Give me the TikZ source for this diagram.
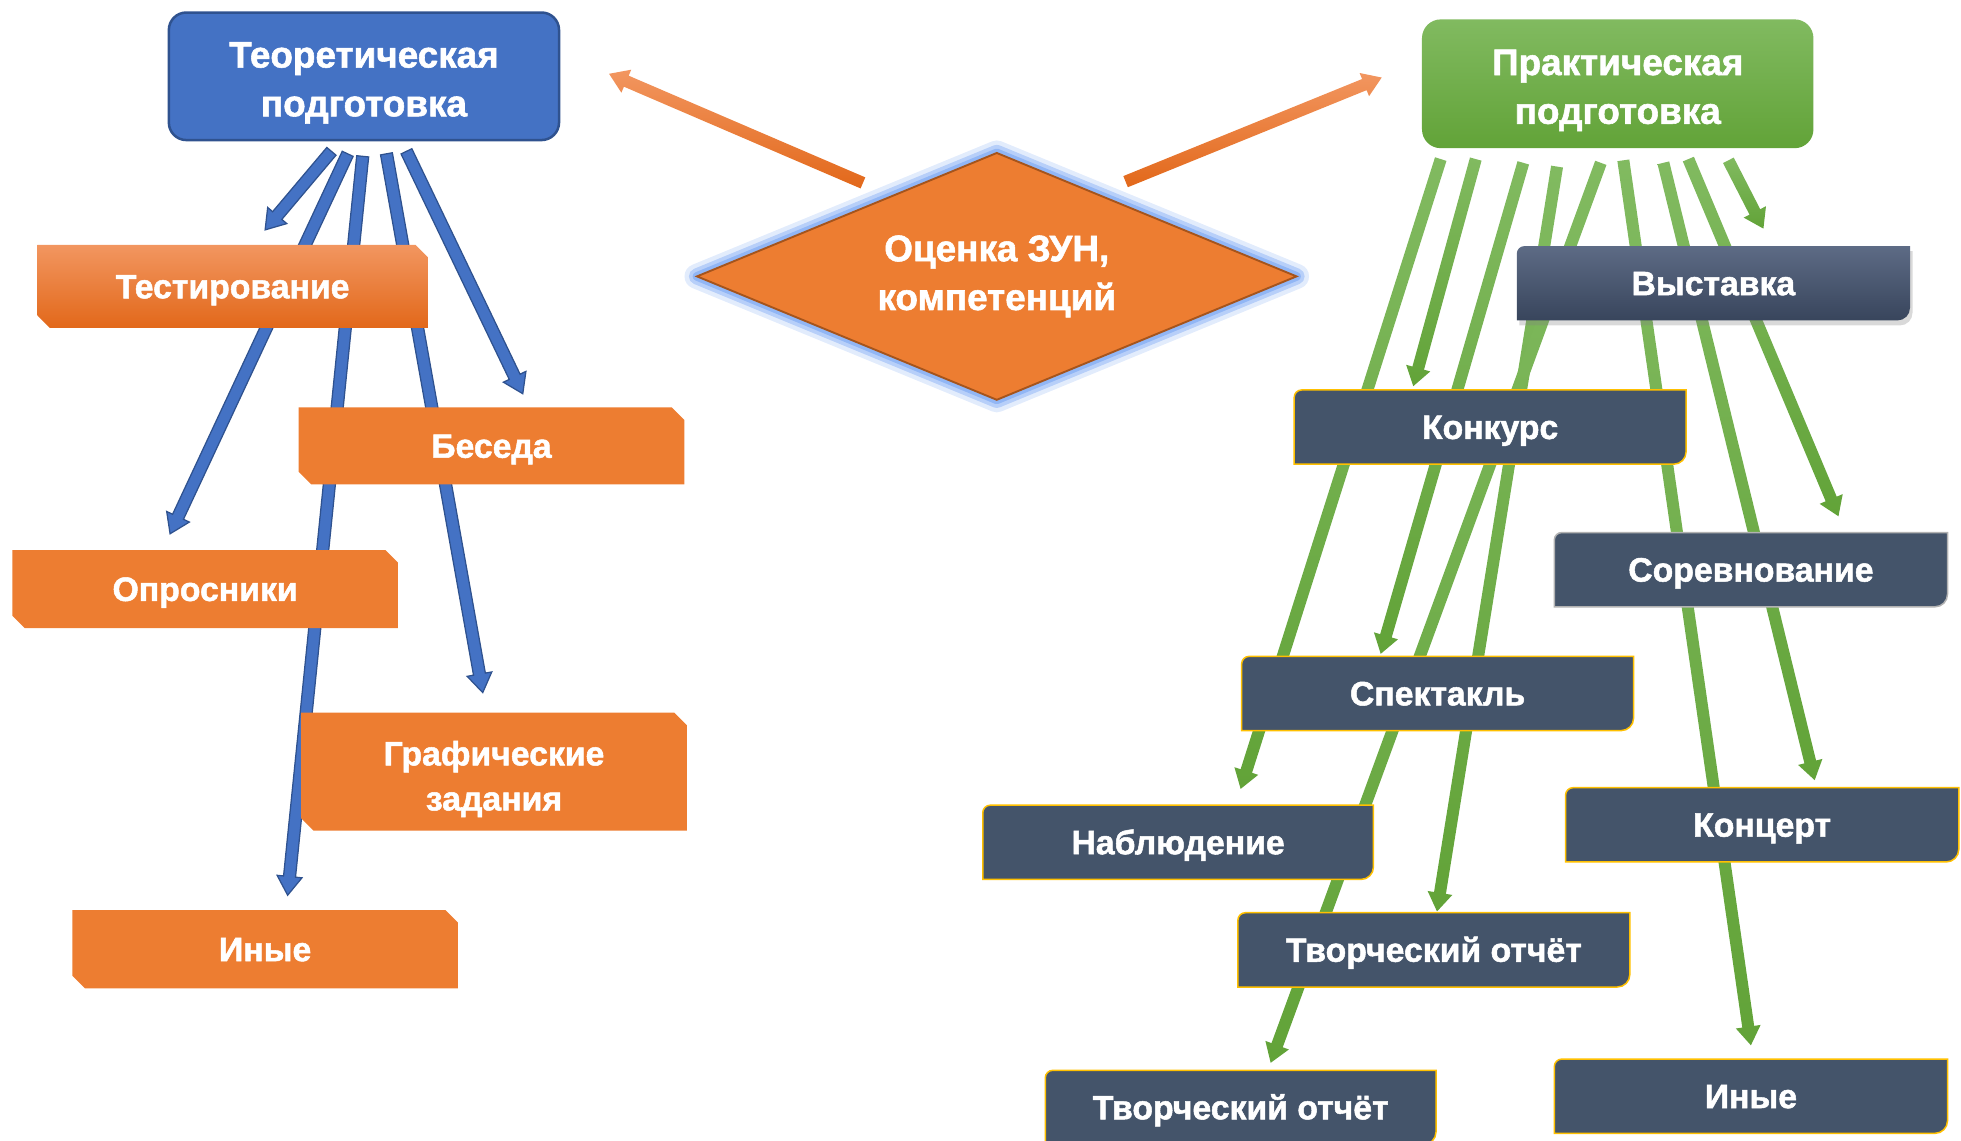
\documentclass[tikz,border=0pt]{standalone}
\usepackage{fontspec}
\setmainfont{Liberation Sans}
\newfontfamily\heavyfont[FakeBold=1.5]{Liberation Sans Bold}
\usetikzlibrary{calc,shapes.geometric,shadows}

\definecolor{theoryblue}{HTML}{4472C4}
\definecolor{theoryedge}{HTML}{2F528F}
\definecolor{evalorange}{HTML}{ED7D31}
\definecolor{evaledge}{HTML}{A5541C}
\definecolor{orangelight}{HTML}{F29660}
\definecolor{orangedark}{HTML}{E2681A}
\definecolor{greenlight}{HTML}{81BA60}
\definecolor{greendark}{HTML}{62A338}
\definecolor{slate}{HTML}{44546A}
\definecolor{slatelight}{HTML}{5D6B85}
\definecolor{slatedark}{HTML}{38455C}
\definecolor{goldline}{HTML}{FFC000}
\definecolor{glowblue}{HTML}{8DB3F5}

\pgfdeclarelayer{arrowlayer}
\pgfdeclarelayer{boxlayer}
\pgfsetlayers{arrowlayer,boxlayer,main}

\newcommand\snip{10pt}
\newcommand\shaftw{4.8pt}
\newcommand\headw{10pt}
\newcommand\headl{15pt}

% thick arrow as a filled outline: [style]{from}{to}
\newcommand\blockarrow[3][]{%
  \coordinate (ba-s) at (#2);
  \coordinate (ba-e) at (#3);
  \coordinate (ba-b) at ($(ba-e)!\headl!(ba-s)$);
  \path[#1] ($(ba-s)!\shaftw!90:(ba-e)$) -- ($(ba-b)!\shaftw!-90:(ba-s)$)
    -- ($(ba-b)!\headw!-90:(ba-s)$) -- (ba-e) -- ($(ba-b)!\headw!90:(ba-s)$)
    -- ($(ba-b)!\shaftw!90:(ba-s)$) -- ($(ba-s)!\shaftw!-90:(ba-e)$) -- cycle;}

% box with two snipped corners
\newcommand\snipbox[2]{%
  \path[#2] ([xshift=-\snip]#1.north east) -- ([yshift=-\snip]#1.north east)
    -- (#1.south east) -- ([xshift=\snip]#1.south west)
    -- ([yshift=\snip]#1.south west) -- (#1.north west) -- cycle;}

% box with two rounded corners on the diagonal
\newcommand\slatebox[2]{%
  \path[#2] (#1.south west) -- ([yshift=-6pt]#1.north west)
    arc[start angle=180,end angle=90,radius=6pt] -- (#1.north east)
    -- ([yshift=10pt]#1.south east)
    arc[start angle=0,end angle=-90,radius=10pt] -- cycle;}

\tikzset{
  lbl/.style={text=white, font=\heavyfont\fontsize{27}{39}\selectfont,
    align=center, inner sep=0pt},
  headlbl/.style={lbl, font=\heavyfont\fontsize{29.5}{39}\selectfont},
  orangenode/.style={lbl, minimum width=308pt, minimum height=62pt,
    text height=24pt, text depth=5pt},
  slatenode/.style={lbl, minimum width=313pt, minimum height=59pt,
    text height=24pt, text depth=5pt},
  orangefill/.style={fill=evalorange},
  slatefill/.style={fill=slate, draw=goldline, line width=1.2pt},
  bluearrow/.style={fill=theoryblue, draw=theoryedge, line width=1pt},
  greenarrow/.style={top color=greenlight, bottom color=greendark},
  orangearrow/.style={top color=orangelight, bottom color=orangedark},
}

\begin{document}
\begin{tikzpicture}[x=1pt,y=1pt]
\useasboundingbox (0,0) rectangle (1568,-912);

% main boxes
\node[headlbl, fill=theoryblue, draw=theoryedge, line width=2pt, rounded corners=14pt,
  minimum width=312pt, minimum height=102pt, text height=64pt, text depth=0pt]
  (theory) at (291,-61) {Теоретическая\\подготовка};
\node[headlbl, top color=greenlight, bottom color=greendark, rounded corners=15pt,
  minimum width=313pt, minimum height=103pt, text height=64pt, text depth=0pt]
  (practice) at (1293.5,-67) {Практическая\\подготовка};
\node[headlbl, diamond, aspect=2.4, minimum width=480pt, minimum height=198pt,
  fill=evalorange, draw=evaledge, line width=1.5pt,
  preaction={draw=glowblue, line width=20pt, line join=round, opacity=.25},
  preaction={draw=glowblue, line width=13pt, line join=round, opacity=.5},
  preaction={draw=glowblue, line width=7pt, line join=round, opacity=.9}]
  (score) at (797,-221) {Оценка ЗУН,\\компетенций};

% theory
\node[orangenode, minimum width=312pt, minimum height=66pt] (test) at (186,-229) {Тестирование};
\node[orangenode, minimum height=61pt] (talk) at (393,-356.5) {Беседа};
\node[orangenode] (quest) at (164,-471) {Опросники};
\node[orangenode, minimum height=94pt, font=\heavyfont\fontsize{27}{36}\selectfont,
  text height=62pt, text depth=0pt] (graph) at (395,-617) {Графические\\задания};
\node[orangenode] (otherl) at (212,-759) {Иные};

% practice
\node[slatenode, minimum width=314pt] (show) at (1370,-226.5) {Выставка};
\node[slatenode] (contest) at (1191.5,-341.5) {Конкурс};
\node[slatenode, minimum width=314pt] (match) at (1400,-455.5) {Соревнование};
\node[slatenode] (play) at (1149.5,-554.5) {Спектакль};
\node[slatenode, minimum width=314pt] (concert) at (1409,-659.5) {Концерт};
\node[slatenode, minimum width=312pt] (watch) at (942,-673.5) {Наблюдение};
\node[slatenode] (report) at (1146.5,-759.5) {Творческий отчёт};
\node[slatenode, minimum width=312pt] (reportb) at (992,-885.5) {Творческий отчёт};
\node[slatenode, minimum width=314pt] (otherr) at (1400,-876.5) {Иные};

\begin{pgfonlayer}{boxlayer}
  \snipbox{test}{top color=orangelight, bottom color=orangedark}
  \snipbox{talk}{orangefill}
  \snipbox{quest}{orangefill}
  \snipbox{graph}{orangefill}
  \snipbox{otherl}{orangefill}
  \slatebox{show}{top color=slatelight, bottom color=slatedark,
    drop shadow={opacity=.3, shadow xshift=2pt, shadow yshift=-4pt}}
  \slatebox{contest}{slatefill}
  \slatebox{match}{slatefill, draw=gray!60}
  \slatebox{play}{slatefill}
  \slatebox{concert}{slatefill}
  \slatebox{watch}{slatefill}
  \slatebox{report}{slatefill}
  \slatebox{reportb}{slatefill}
  \slatebox{otherr}{slatefill}
\end{pgfonlayer}

\begin{pgfonlayer}{arrowlayer}
  % from the diamond
  \blockarrow[orangearrow]{[xshift=-107pt,yshift=-25pt]score.north}{[xshift=39pt,yshift=2pt]theory.east}
  \blockarrow[orangearrow]{[xshift=103pt,yshift=-24pt]score.north}{[xshift=-32pt,yshift=5pt]practice.west}
  % theory
  \blockarrow[bluearrow]{[xshift=-26pt,yshift=-8pt]theory.south}{[xshift=26pt,yshift=12pt]test.north}
  \blockarrow[bluearrow]{[xshift=-13pt,yshift=-10pt]theory.south}{[xshift=-28pt,yshift=13pt]quest.north}
  \blockarrow[bluearrow]{[xshift=-1pt,yshift=-12pt]theory.south}{[xshift=18pt,yshift=12pt]otherl.north}
  \blockarrow[bluearrow]{[xshift=18pt,yshift=-10pt]theory.south}{[xshift=-9pt,yshift=16pt]graph.north}
  \blockarrow[bluearrow]{[xshift=34pt,yshift=-8pt]theory.south}{[xshift=25pt,yshift=11pt]talk.north}
  % practice
  \blockarrow[greenarrow]{[xshift=-141.5pt,yshift=-8.5pt]practice.south}{[xshift=50pt,yshift=13pt]watch.north}
  \blockarrow[greenarrow]{[xshift=-113.5pt,yshift=-8.5pt]practice.south}{[xshift=-61.5pt,yshift=3pt]contest.north}
  \blockarrow[greenarrow]{[xshift=-75.5pt,yshift=-11.5pt]practice.south}{[xshift=-45.5pt,yshift=2pt]play.north}
  \blockarrow[greenarrow]{[xshift=-48.5pt,yshift=-14.5pt]practice.south}{[xshift=2.5pt,yshift=1pt]report.north}
  \blockarrow[greenarrow]{[xshift=-13.5pt,yshift=-11.5pt]practice.south}{[xshift=24pt,yshift=6pt]reportb.north}
  \blockarrow[greenarrow]{[xshift=4.5pt,yshift=-9.5pt]practice.south}{[yshift=11pt]otherr.north}
  \blockarrow[greenarrow]{[xshift=36.5pt,yshift=-11.5pt]practice.south}{[xshift=42pt,yshift=6pt]concert.north}
  \blockarrow[greenarrow]{[xshift=56.5pt,yshift=-8.5pt]practice.south}{[xshift=70pt,yshift=13pt]match.north}
  \blockarrow[greenarrow]{[xshift=88.5pt,yshift=-9.5pt]practice.south}{[xshift=40pt,yshift=14pt]show.north}
\end{pgfonlayer}
\end{tikzpicture}
\end{document}
